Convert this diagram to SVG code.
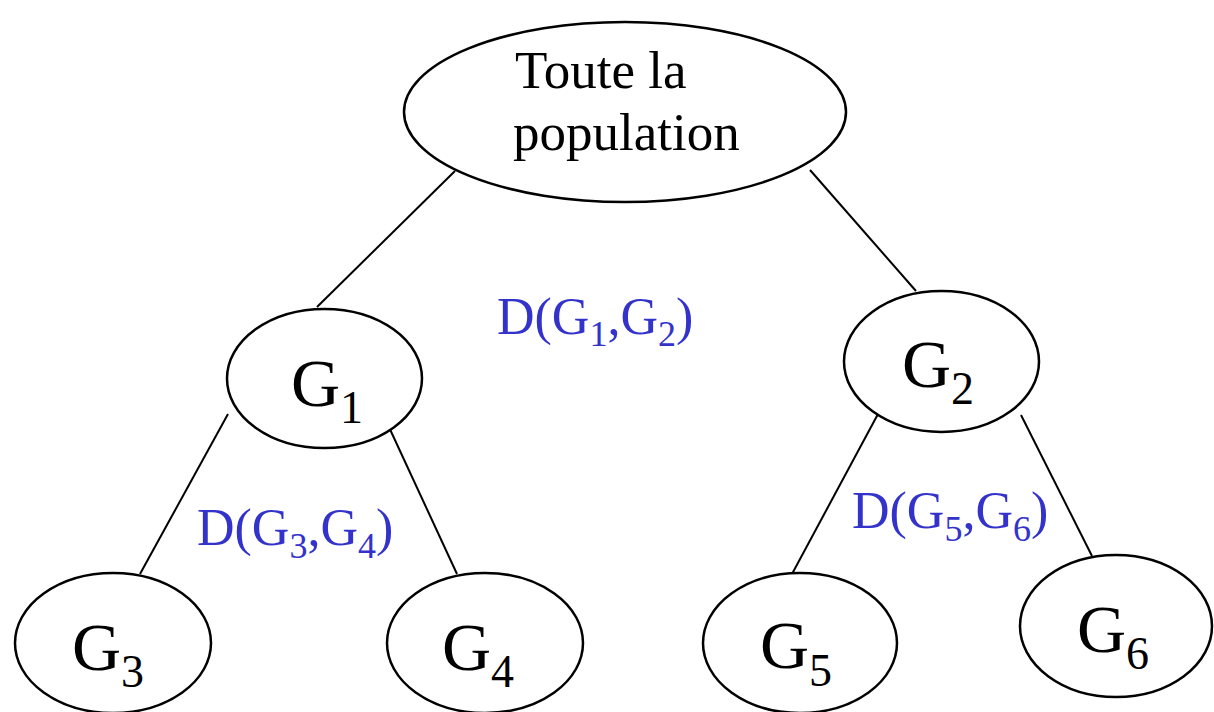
<svg xmlns="http://www.w3.org/2000/svg" width="1214" height="712" viewBox="0 0 1214 712">
<style>
.n{fill:#fff;stroke:#000;stroke-width:2.5}
.c line{stroke:#000;stroke-width:2}
.t{font-family:"Liberation Serif","Times New Roman",serif;fill:#000}
.g{font-size:68px}
.s{font-size:46px}
.d{font-family:"Liberation Serif","Times New Roman",serif;fill:#3333CC;font-size:52px}
.ds{font-size:36px}
</style>
<rect width="1214" height="712" fill="#fff"/>
<g id="connectors" class="c">
<line x1="455" y1="171" x2="317" y2="307"/>
<line x1="810" y1="170" x2="916" y2="291"/>
<line x1="228" y1="414" x2="140" y2="574"/>
<line x1="388" y1="425" x2="457" y2="574"/>
<line x1="878" y1="414" x2="792" y2="574"/>
<line x1="1021" y1="415" x2="1092" y2="556"/>
</g>
<g id="root">
<ellipse class="n" cx="625" cy="112" rx="221" ry="90"/>
<text class="t" font-size="53" x="515" y="88">Toute la</text>
<text class="t" font-size="53" x="513" y="150">population</text>
</g>
<g id="G1">
<ellipse class="n" cx="324.5" cy="378.5" rx="97.5" ry="69.5"/>
<text class="t g" x="291" y="406">G<tspan class="s" dy="17">1</tspan></text>
</g>
<g id="G2">
<ellipse class="n" cx="941.5" cy="361.5" rx="97.5" ry="70.5"/>
<text class="t g" x="902" y="387">G<tspan class="s" dy="17">2</tspan></text>
</g>
<g id="G3">
<ellipse class="n" cx="113" cy="643" rx="98" ry="70"/>
<text class="t g" x="72" y="670">G<tspan class="s" dy="17">3</tspan></text>
</g>
<g id="G4">
<ellipse class="n" cx="485" cy="643" rx="98" ry="70"/>
<text class="t g" x="442" y="670">G<tspan class="s" dy="17">4</tspan></text>
</g>
<g id="G5">
<ellipse class="n" cx="800" cy="643" rx="97" ry="70"/>
<text class="t g" x="760" y="668">G<tspan class="s" dy="18">5</tspan></text>
</g>
<g id="G6">
<ellipse class="n" cx="1116" cy="626" rx="96" ry="71"/>
<text class="t g" x="1077" y="652">G<tspan class="s" dy="17">6</tspan></text>
</g>
<g id="labels">
<text class="d" x="497" y="334">D(G<tspan class="ds" dy="12">1</tspan><tspan dy="-12">,G</tspan><tspan class="ds" dy="12">2</tspan><tspan dy="-12">)</tspan></text>
<text class="d" x="197" y="545">D(G<tspan class="ds" dy="13">3</tspan><tspan dy="-13">,G</tspan><tspan class="ds" dy="13">4</tspan><tspan dy="-13">)</tspan></text>
<text class="d" x="852" y="528">D(G<tspan class="ds" dy="13">5</tspan><tspan dy="-13">,G</tspan><tspan class="ds" dy="13">6</tspan><tspan dy="-13">)</tspan></text>
</g>
</svg>
